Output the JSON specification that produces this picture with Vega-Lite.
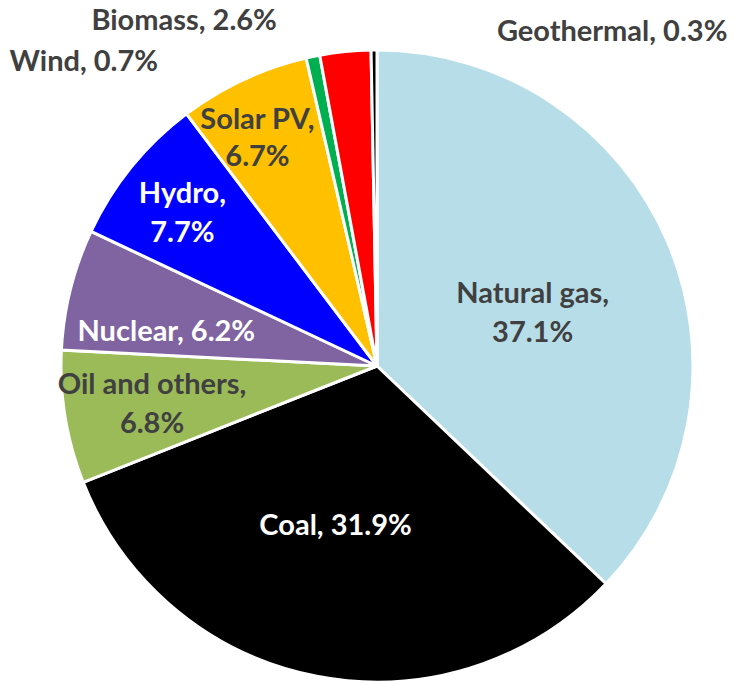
{
  "$schema": "https://vega.github.io/schema/vega-lite/v6.json",
  "width": 632,
  "height": 632,
  "autosize": "none",
  "padding": {"left": 61, "top": 50, "right": 42, "bottom": 1},
  "background": "white",
  "config": {"view": {"stroke": null}},
  "data": {
    "values": [
      {"name": "Natural gas", "share": 37.1, "label": "Natural gas,\n37.1%"},
      {"name": "Coal", "share": 31.9, "label": "Coal, 31.9%"},
      {"name": "Oil and others", "share": 6.8, "label": "Oil and others,\n6.8%"},
      {"name": "Nuclear", "share": 6.2, "label": "Nuclear, 6.2%"},
      {"name": "Hydro", "share": 7.7, "label": "Hydro,\n7.7%"},
      {"name": "Solar PV", "share": 6.7, "label": "Solar PV,\n6.7%"},
      {"name": "Wind", "share": 0.7, "label": "Wind, 0.7%"},
      {"name": "Biomass", "share": 2.6, "label": "Biomass, 2.6%"},
      {"name": "Geothermal", "share": 0.3, "label": "Geothermal, 0.3%"}
    ]
  },
  "transform": [{"window": [{"op": "row_number", "as": "idx"}]}],
  "encoding": {
    "theta": {"field": "share", "type": "quantitative", "stack": true},
    "order": {"field": "idx", "type": "quantitative"},
    "detail": {"field": "name", "type": "nominal"}
  },
  "layer": [
    {
      "mark": {"type": "arc", "outerRadius": 316, "stroke": "white", "strokeWidth": 3},
      "encoding": {
        "color": {
          "field": "name",
          "type": "nominal",
          "scale": {
            "domain": ["Natural gas", "Coal", "Oil and others", "Nuclear", "Hydro", "Solar PV", "Wind", "Biomass", "Geothermal"],
            "range": ["#b7dde8", "#000000", "#9bbb59", "#8064a2", "#0000ff", "#ffc000", "#00b050", "#ff0000", "#000000"]
          },
          "legend": null
        }
      }
    },
    {
      "mark": {"type": "text", "radius": 165, "font": "Lato", "fontWeight": "bold", "fontSize": 29, "lineHeight": 39, "lineBreak": "\n", "fill": "#404040", "align": "center", "baseline": "middle", "dx": 4, "dy": -7},
      "encoding": {"text": {"condition": {"test": "datum.name === 'Natural gas'", "field": "label", "type": "nominal"}, "value": ""}}
    },
    {
      "mark": {"type": "text", "radius": 165, "font": "Lato", "fontWeight": "bold", "fontSize": 29, "lineHeight": 39, "lineBreak": "\n", "fill": "#ffffff", "align": "center", "baseline": "middle", "dx": -10, "dy": -2},
      "encoding": {"text": {"condition": {"test": "datum.name === 'Coal'", "field": "label", "type": "nominal"}, "value": ""}}
    },
    {
      "mark": {"type": "text", "radius": 228, "font": "Lato", "fontWeight": "bold", "fontSize": 29, "lineHeight": 39, "lineBreak": "\n", "fill": "#404040", "align": "center", "baseline": "middle", "dx": 0, "dy": -18},
      "encoding": {"text": {"condition": {"test": "datum.name === 'Oil and others'", "field": "label", "type": "nominal"}, "value": ""}}
    },
    {
      "mark": {"type": "text", "radius": 212, "font": "Lato", "fontWeight": "bold", "fontSize": 29, "lineHeight": 39, "lineBreak": "\n", "fill": "#ffffff", "align": "center", "baseline": "middle", "dx": -5, "dy": 17},
      "encoding": {"text": {"condition": {"test": "datum.name === 'Nuclear'", "field": "label", "type": "nominal"}, "value": ""}}
    },
    {
      "mark": {"type": "text", "radius": 248, "font": "Lato", "fontWeight": "bold", "fontSize": 29, "lineHeight": 39, "lineBreak": "\n", "fill": "#ffffff", "align": "center", "baseline": "middle", "dx": -2, "dy": -16},
      "encoding": {"text": {"condition": {"test": "datum.name === 'Hydro'", "field": "label", "type": "nominal"}, "value": ""}}
    },
    {
      "mark": {"type": "text", "radius": 259, "font": "Lato", "fontWeight": "bold", "fontSize": 29, "lineHeight": 37, "lineBreak": "\n", "fill": "#404040", "align": "center", "baseline": "middle", "dx": -10, "dy": -11},
      "encoding": {"text": {"condition": {"test": "datum.name === 'Solar PV'", "field": "label", "type": "nominal"}, "value": ""}}
    },
    {
      "mark": {"type": "text", "radius": 330, "font": "Lato", "fontWeight": "bold", "fontSize": 29, "lineBreak": "\n", "fill": "#404040", "align": "right", "baseline": "middle", "dx": -152, "dy": 19},
      "encoding": {"text": {"condition": {"test": "datum.name === 'Wind'", "field": "label", "type": "nominal"}, "value": ""}}
    },
    {
      "mark": {"type": "text", "radius": 330, "font": "Lato", "fontWeight": "bold", "fontSize": 29, "lineBreak": "\n", "fill": "#404040", "align": "right", "baseline": "middle", "dx": -67, "dy": -17},
      "encoding": {"text": {"condition": {"test": "datum.name === 'Biomass'", "field": "label", "type": "nominal"}, "value": ""}}
    },
    {
      "mark": {"type": "text", "radius": 330, "font": "Lato", "fontWeight": "bold", "fontSize": 29, "lineBreak": "\n", "fill": "#404040", "align": "left", "baseline": "middle", "dx": 123, "dy": -4},
      "encoding": {"text": {"condition": {"test": "datum.name === 'Geothermal'", "field": "label", "type": "nominal"}, "value": ""}}
    }
  ]
}
